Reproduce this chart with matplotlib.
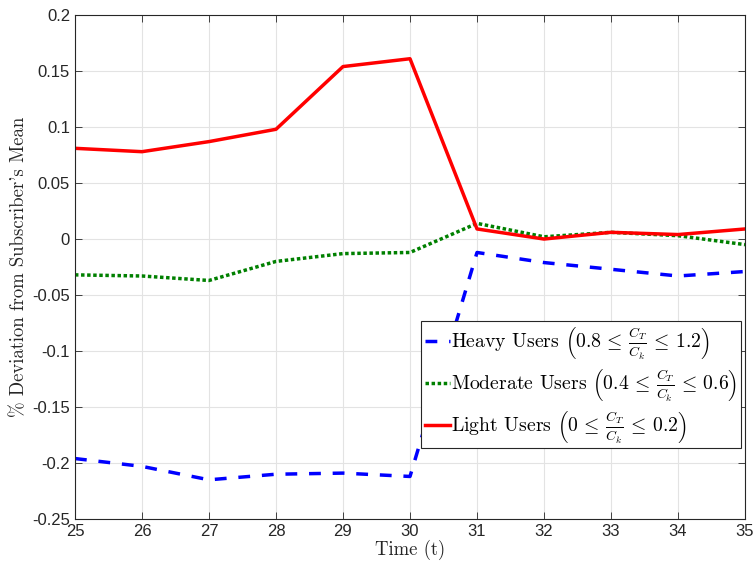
import matplotlib
matplotlib.use("Agg")
import matplotlib.pyplot as plt

t = [25, 26, 27, 28, 29, 30, 31, 32, 33, 34, 35]
heavy = [-0.196, -0.203, -0.215, -0.210, -0.209, -0.212, -0.012, -0.021, -0.027, -0.033, -0.029]
moderate = [-0.032, -0.033, -0.037, -0.020, -0.013, -0.012, 0.014, 0.002, 0.006, 0.003, -0.005]
light = [0.081, 0.078, 0.087, 0.098, 0.154, 0.161, 0.009, 0.000, 0.006, 0.004, 0.009]

xticks = list(range(25, 36))
yticks = [-0.25, -0.2, -0.15, -0.1, -0.05, 0, 0.05, 0.1, 0.15, 0.2]
yticklabels = ['-0.25', '-0.2', '-0.15', '-0.1', '-0.05', '0', '0.05', '0.1', '0.15', '0.2']

labels = [r"Heavy Users $\left(0.8 \,\leq\, \frac{C_T}{C_k} \,\leq\, 1.2\right)$",
          r"Moderate Users $\left(0.4 \,\leq\, \frac{C_T}{C_k} \,\leq\, 0.6\right)$",
          r"Light Users $\left(0 \,\leq\, \frac{C_T}{C_k} \,\leq\, 0.2\right)$"]

plt.rcParams['mathtext.fontset'] = 'cm'

fig = plt.figure(figsize=(7.55, 5.79), dpi=100)
ax = fig.add_axes([0.0993, 0.1036, 0.8875, 0.8704])

ax.plot(t, heavy, color='#0000ff', lw=2.5, linestyle=(0, (3.4, 3.4)), label=labels[0])
ax.plot(t, moderate, color='#008000', lw=2.5, linestyle=(0, (1, 0.75)), label=labels[1])
ax.plot(t, light, color='#ff0000', lw=2.5, linestyle='-', label=labels[2])

ax.set_xlim(25, 35)
ax.set_ylim(-0.25, 0.2)
ax.set_xticks(xticks)
ax.set_xticklabels([str(x) for x in xticks])
ax.set_yticks(yticks)
ax.set_yticklabels(yticklabels)
for lab in ax.get_xticklabels() + ax.get_yticklabels():
    lab.set_family('Liberation Sans')
    lab.set_fontsize(12)
    lab.set_color('#262626')
ax.tick_params(direction='in', length=5, width=0.6, color='#262626', top=True, right=True)
ax.grid(True, color='#e3e3e3', lw=0.8)
ax.set_axisbelow(True)
for s in ax.spines.values():
    s.set_color('#262626')
    s.set_linewidth(0.8)

ax.set_xlabel('Time (t)', family=['cmr10', 'DejaVu Serif'], fontsize=13.5, color='#262626', labelpad=1)
ax.set_ylabel("% Deviation from Subscriber's Mean", family=['cmr10', 'DejaVu Serif'], fontsize=13.5,
              color='#262626', labelpad=3)

leg = ax.legend(loc='upper right', bbox_to_anchor=(0.994, 0.392), fancybox=False,
                edgecolor='#262626', framealpha=1, handlelength=1.3, handletextpad=0.05,
                borderpad=0.18, labelspacing=0.3, borderaxespad=0,
                prop={'family': 'cmr10', 'size': 14.2})
leg.get_frame().set_linewidth(0.8)

fig.savefig('out.png', dpi=100)
